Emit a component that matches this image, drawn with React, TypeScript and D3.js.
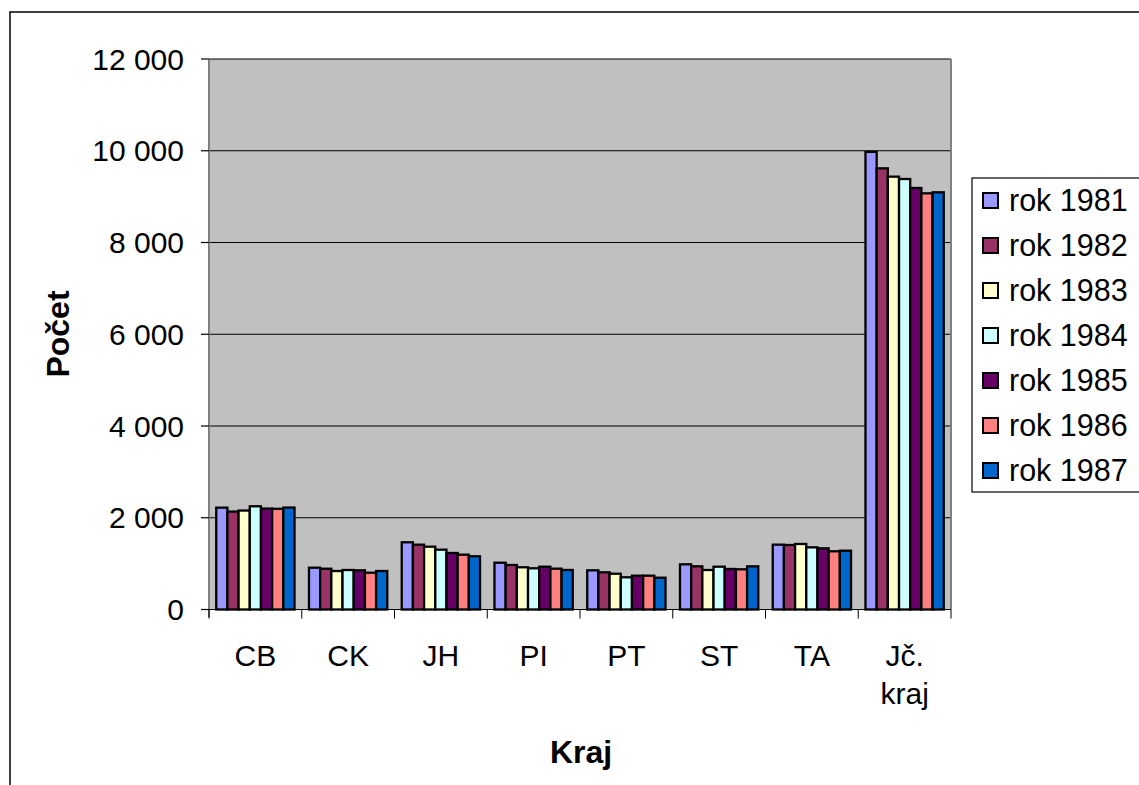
import React from "react";
import * as d3 from "d3";

const categories = ["CB", "CK", "JH", "PI", "PT", "ST", "TA", "Jč. kraj"];
const years = ["rok 1981", "rok 1982", "rok 1983", "rok 1984", "rok 1985", "rok 1986", "rok 1987"];
const colors = ["#9999FF", "#993366", "#FFFFCC", "#CCFFFF", "#660066", "#FF8080", "#0066CC"];

const v1981 = [2220, 911, 1465, 1020, 854, 985, 1413, 9975];
const v1982 = [2135, 889, 1413, 970, 811, 941, 1406, 9617];
const v1983 = [2157, 839, 1369, 920, 780, 861, 1428, 9435];
const v1984 = [2250, 861, 1304, 898, 702, 933, 1355, 9384];
const v1985 = [2200, 854, 1232, 933, 737, 883, 1334, 9188];
const v1986 = [2195, 802, 1195, 890, 737, 876, 1269, 9072];
const v1987 = [2222, 839, 1160, 861, 693, 941, 1282, 9094];
const series = [v1981, v1982, v1983, v1984, v1985, v1986, v1987];

const yTicks = [0, 2000, 4000, 6000, 8000, 10000, 12000];

const W = 1139;
const H = 785;
const left = 209;
const right = 951;
const top = 59;
const bottom = 609.5;
const font = "Arial, 'Liberation Sans', sans-serif";

export default function App() {
  const x = d3.scaleBand<string>().domain(categories).range([left, right]).padding(0);
  const bw = x.bandwidth();
  const groupW = 78.3;
  const inner = d3
    .scaleBand<string>()
    .domain(years)
    .range([(bw - groupW) / 2, (bw + groupW) / 2])
    .padding(0);
  const y = d3.scaleLinear().domain([0, 12000]).range([bottom, top]);
  const fmt = (v: number) => d3.format(",")(v).replace(/,/g, " ");

  return (
    <svg
      width={W}
      height={H}
      style={{ position: "absolute", left: 0, top: 0, display: "block" }}
      fontFamily={font}
    >
      <rect x={0} y={0} width={W} height={H} fill="#fff" />
      <rect x={10} y={12} width={1200} height={900} fill="#fff" stroke="#000" strokeWidth={1.5} />
      {/* plot area */}
      <rect x={left} y={top} width={right - left} height={bottom - top} fill="#C0C0C0" />
      {yTicks
        .filter((t) => t > 0)
        .map((t) => (
          <line key={t} x1={left} x2={right} y1={y(t)} y2={y(t)} stroke="#000" strokeWidth={1} />
        ))}
      <line x1={right} x2={right} y1={top} y2={bottom} stroke="#808080" strokeWidth={2} />
      {/* bars */}
      {categories.map((c, ci) => (
        <g key={c} transform={`translate(${x(c)},0)`}>
          {series.map((s, si) => (
            <rect
              key={si}
              x={inner(years[si])}
              y={y(s[ci])}
              width={inner.bandwidth()}
              height={bottom - y(s[ci])}
              fill={colors[si]}
              stroke="#000"
              strokeWidth={2.3}
            />
          ))}
        </g>
      ))}
      {/* y axis */}
      <line x1={left} x2={left} y1={top} y2={bottom + 8} stroke="#808080" strokeWidth={2} />
      {yTicks.map((t) => (
        <g key={t}>
          <line x1={left - 8} x2={left} y1={y(t)} y2={y(t)} stroke="#000" strokeWidth={1.2} />
          <text x={184} y={y(t) + 10.5} textAnchor="end" fontSize={30} fill="#000">
            {fmt(t)}
          </text>
        </g>
      ))}
      {/* x axis */}
      <line x1={left} x2={right} y1={bottom} y2={bottom} stroke="#000" strokeWidth={1.2} />
      {[...categories.map((c) => x(c) as number), right].map((px, i) => (
        <line key={i} x1={px} x2={px} y1={bottom} y2={bottom + 9} stroke="#000" strokeWidth={1} />
      ))}
      {categories.map((c) => {
        const cx = (x(c) as number) + bw / 2;
        const parts = c.split(" ");
        return (
          <text key={c} x={cx} y={666} textAnchor="middle" fontSize={30} fill="#000">
            {parts.map((p, i) => (
              <tspan key={i} x={cx} dy={i === 0 ? 0 : 38}>
                {p}
              </tspan>
            ))}
          </text>
        );
      })}
      {/* titles */}
      <text
        transform={`translate(69,334) rotate(-90)`}
        textAnchor="middle"
        fontSize={32}
        fontWeight="bold"
        fill="#000"
      >
        Počet
      </text>
      <text x={581} y={763} textAnchor="middle" fontSize={32} fontWeight="bold" fill="#000">
        Kraj
      </text>
      {/* legend */}
      <rect x={972} y={178} width={180} height={314} fill="#fff" stroke="#000" strokeWidth={1.2} />
      {years.map((yr, i) => {
        const cy = 200 + i * 45;
        return (
          <g key={yr}>
            <rect x={983} y={cy - 7} width={15} height={15} fill={colors[i]} stroke="#000" strokeWidth={2} />
            <text x={1009} y={cy + 10.5} fontSize={30.5} fill="#000">
              {yr}
            </text>
          </g>
        );
      })}
    </svg>
  );
}
